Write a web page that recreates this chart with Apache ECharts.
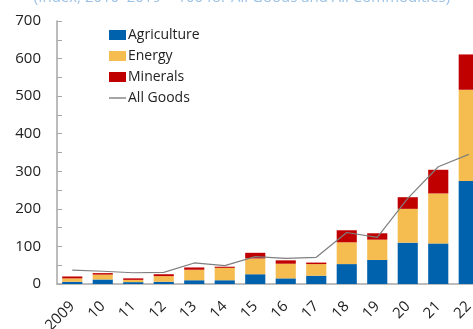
<!DOCTYPE html>
<html>
<head>
<meta charset="utf-8">
<script src="https://cdn.jsdelivr.net/npm/echarts@6/dist/echarts.min.js"></script>
<style>
html, body { margin: 0; padding: 0; background: #fff; overflow: hidden; }
/* chart is a bit wider than the window: last bar gets cut off like the original */
#main { width: 484px; height: 329px; }
</style>
</head>
<body>
<div id="main"></div>
<script>
// data
var years = ['2009', '10', '11', '12', '13', '14', '15', '16', '17', '18', '19', '20', '21', '22'];
var agriculture = [6, 12, 5, 6, 10, 10, 26, 15, 22, 53, 64, 110, 108, 274];
var energy = [9, 13, 6, 15, 28, 33, 42, 39, 31, 58, 54, 90, 133, 243];
var minerals = [5, 4, 4, 5, 6, 3, 15, 9, 4, 32, 17, 31, 63, 94];
var allGoods = [37, 34, 30, 31, 56, 49, 73, 68, 71, 137, 124, 228, 312, 345];
var yTicks = [0, 100, 200, 300, 400, 500, 600, 700];

var font = 'Open Sans';
var myChart = echarts.init(document.getElementById('main'));

var option = {
    animation: false,
    title: {
        text: '(Index, 2010\u20132019 = 100 for All Goods and All Commodities)',
        left: 'center',
        top: -15,
        textStyle: { color: '#9dc3e6', fontSize: 15, fontWeight: 'normal', fontFamily: font }
    },
    legend: {
        orient: 'vertical',
        left: 109,
        top: 28,
        padding: 0,
        itemWidth: 17,
        itemHeight: 10,
        itemGap: 7,
        textStyle: { fontSize: 14, color: '#222', fontFamily: font, padding: [0, 0, 0, -3] },
        data: [
            { name: 'Agriculture', icon: 'rect' },
            { name: 'Energy', icon: 'rect' },
            { name: 'Minerals', icon: 'rect' },
            { name: 'All Goods', icon: 'path://M0,0L17,0L17,1.4L0,1.4Z' }
        ]
    },
    // labels may run off the bottom, as in the original
    grid: { left: 57, right: 0, top: 21, bottom: 45, containLabel: false, outerBoundsMode: 'none' },
    xAxis: {
        type: 'category',
        data: years,
        axisLine: { lineStyle: { color: '#a6a6a6', width: 1.5 } },
        axisTick: { show: false },
        axisLabel: { rotate: 45, margin: 20, fontSize: 15, color: '#222', fontFamily: font }
    },
    yAxis: {
        type: 'value',
        min: yTicks[0],
        max: yTicks[yTicks.length - 1],
        interval: 100,
        splitLine: { show: false },
        axisLine: { show: true, lineStyle: { color: '#a6a6a6', width: 1.5 } },
        axisTick: { show: true, inside: true, length: 5, lineStyle: { color: '#a6a6a6' } },
        minorTick: { show: true, splitNumber: 2, length: 5, lineStyle: { color: '#a6a6a6' } },
        axisLabel: { margin: 16, fontSize: 15, color: '#222', fontFamily: font }
    },
    series: [
        {
            name: 'Agriculture', type: 'bar', stack: 'c', data: agriculture,
            barCategoryGap: '34%',
            itemStyle: { color: '#0061ac' }
        },
        {
            name: 'Energy', type: 'bar', stack: 'c', data: energy,
            itemStyle: { color: '#f5bd4f' }
        },
        {
            name: 'Minerals', type: 'bar', stack: 'c', data: minerals,
            itemStyle: { color: '#c00000' }
        },
        {
            name: 'All Goods', type: 'line', data: allGoods,
            symbol: 'none',
            lineStyle: { color: '#7f7f7f', width: 1.2 },
            itemStyle: { color: '#7f7f7f' },
            z: 5
        }
    ]
};
myChart.setOption(option);
</script>
</body>
</html>
